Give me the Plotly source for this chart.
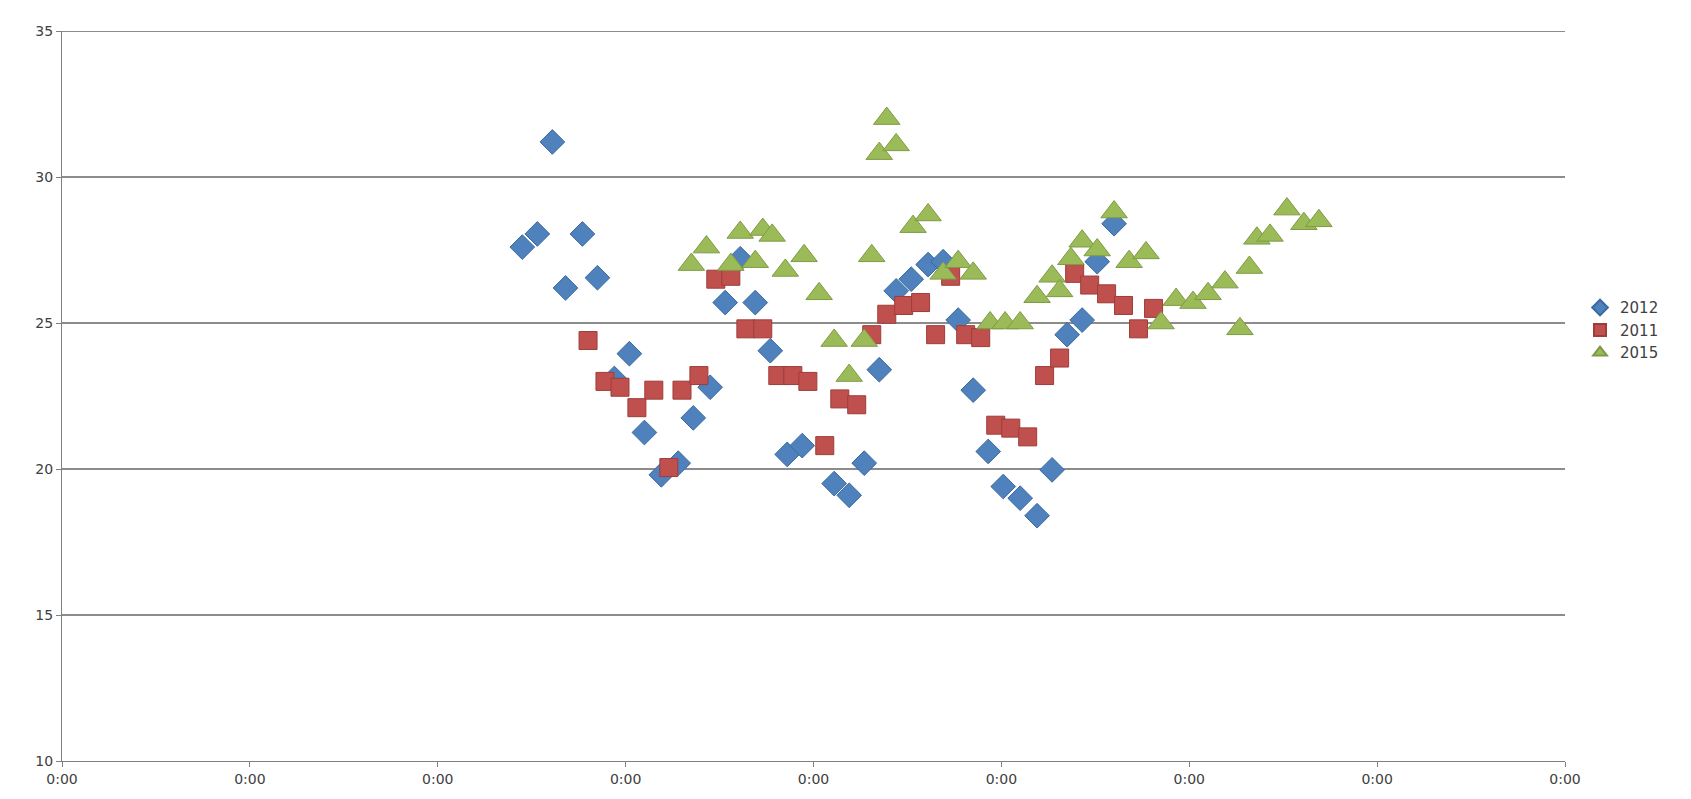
import plotly.graph_objects as go

# x in days from the axis origin, y in measured units
x_2012 = [2.45, 2.53, 2.61, 2.68, 2.77, 2.85, 2.94, 3.02, 3.10, 3.19, 3.28, 3.36, 3.45, 3.53,
          3.61, 3.69, 3.77, 3.86, 3.94, 4.11, 4.19, 4.27, 4.35, 4.44, 4.52, 4.61, 4.69, 4.77,
          4.85, 4.93, 5.01, 5.10, 5.19, 5.27, 5.35, 5.43, 5.51, 5.60]
y_2012 = [27.6, 28.05, 31.2, 26.2, 28.05, 26.55, 23.1, 23.95, 21.25, 19.8, 20.2, 21.75, 22.8, 25.7,
          27.2, 25.7, 24.05, 20.5, 20.8, 19.5, 19.1, 20.2, 23.4, 26.1, 26.5, 27.0, 27.1, 25.1,
          22.7, 20.6, 19.4, 19.0, 18.4, 19.97, 24.6, 25.1, 27.1, 28.4]

x_2011 = [2.80, 2.89, 2.97, 3.06, 3.15, 3.23, 3.30, 3.39, 3.48, 3.56, 3.64, 3.73, 3.81, 3.89,
          3.97, 4.06, 4.14, 4.23, 4.31, 4.39, 4.48, 4.57, 4.65, 4.73, 4.81, 4.89, 4.97, 5.05,
          5.14, 5.23, 5.31, 5.39, 5.47, 5.56, 5.65, 5.73, 5.81]
y_2011 = [24.4, 23.0, 22.8, 22.1, 22.7, 20.05, 22.7, 23.2, 26.5, 26.6, 24.8, 24.8, 23.2, 23.2,
          23.0, 20.8, 22.4, 22.2, 24.6, 25.3, 25.6, 25.7, 24.6, 26.6, 24.6, 24.5, 21.5, 21.4,
          21.1, 23.2, 23.8, 26.7, 26.3, 26.0, 25.6, 24.8, 25.5]

x_2015 = [3.35, 3.43, 3.56, 3.61, 3.69, 3.73, 3.78, 3.85, 3.95, 4.03, 4.11, 4.19, 4.27, 4.31,
          4.35, 4.39, 4.44, 4.53, 4.61, 4.69, 4.77, 4.85, 4.94, 5.02, 5.10, 5.19, 5.27, 5.31,
          5.37, 5.43, 5.51, 5.60, 5.68, 5.77, 5.85, 5.93, 6.02, 6.10, 6.19, 6.27, 6.32, 6.36,
          6.43, 6.52, 6.61, 6.69]
y_2015 = [27.0, 27.6, 27.0, 28.1, 27.1, 28.2, 28.0, 26.8, 27.3, 26.0, 24.4, 23.2, 24.4, 27.3,
          30.8, 32.0, 31.1, 28.3, 28.7, 26.7, 27.1, 26.7, 25.0, 25.0, 25.0, 25.9, 26.6, 26.1,
          27.2, 27.8, 27.5, 28.8, 27.1, 27.4, 25.0, 25.8, 25.7, 26.0, 26.4, 24.8, 26.9, 27.9,
          28.0, 28.9, 28.4, 28.5]

day_ticks = list(range(9))
day_labels = ["0:00"] * 9

fig = go.Figure()
fig.add_trace(go.Scatter(x=x_2012, y=y_2012, mode="markers", name="2012",
                         marker=dict(symbol="diamond", size=19, color="#4F81BD",
                                     line=dict(color="#3A6A9E", width=1))))
fig.add_trace(go.Scatter(x=x_2011, y=y_2011, mode="markers", name="2011",
                         marker=dict(symbol="square", size=18, color="#C0504D",
                                     line=dict(color="#9E3D3A", width=1))))
fig.add_trace(go.Scatter(x=x_2015, y=y_2015, mode="markers", name="2015",
                         marker=dict(symbol="triangle-up", size=23, color="#9BBB59",
                                     line=dict(color="#7F9A45", width=1))))

# top gridline sits on the plot edge, plotly drops it, so draw it as a shape
fig.add_shape(type="line", xref="paper", yref="y", x0=0, x1=1, y0=35, y1=35,
              line=dict(color="#8C8C8C", width=2), layer="below")

fig.update_layout(
    width=1691, height=799,
    margin=dict(l=54, r=134, t=23, b=46),
    plot_bgcolor="white", paper_bgcolor="white",
    font=dict(family="DejaVu Sans", size=14, color="#404040"),
    legend=dict(x=1.01, y=0.59, yanchor="middle", xanchor="left",
                font=dict(size=15), tracegroupgap=0, itemsizing="constant"),
    xaxis=dict(range=[0, 8], tickvals=day_ticks, ticktext=day_labels,
               showgrid=False, zeroline=False, showline=True, linecolor="#808080",
               ticks="outside", ticklen=5, tickcolor="#808080"),
    yaxis=dict(range=[10, 35], tickvals=[10, 15, 20, 25, 30, 35], showgrid=True,
               gridcolor="#8C8C8C", gridwidth=2,
               zeroline=False, showline=True, linecolor="#808080",
               ticks="outside", ticklen=5, tickcolor="#808080"),
)

fig.write_html("out.html")
